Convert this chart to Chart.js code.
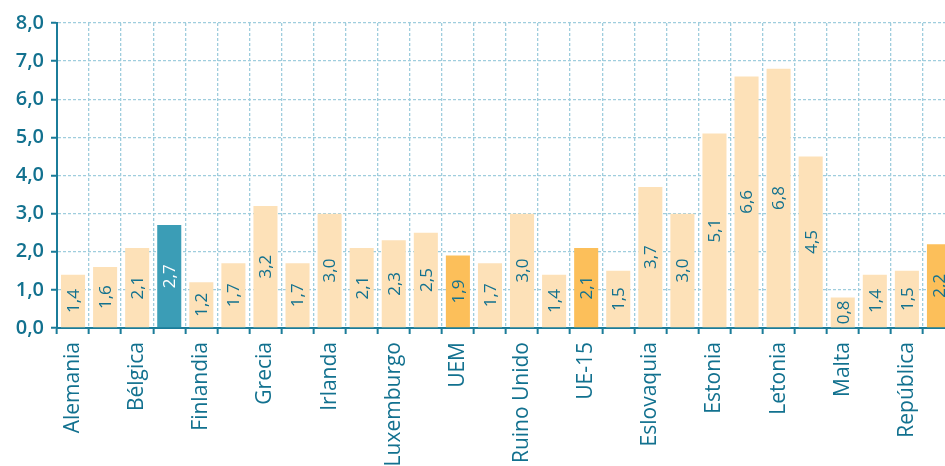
<!DOCTYPE html>
<html>
<head>
<meta charset="utf-8">
<script src="https://cdn.jsdelivr.net/npm/chart.js@4/dist/chart.umd.min.js"></script>
<style>
  body { margin: 0; background: #fff; }
  #wrap { width: 945px; height: 466px; overflow: hidden; }
  #inner { width: 955px; height: 466px; position: relative; }
</style>
</head>
<body>
<div id="wrap"><div id="inner"><canvas id="barChart"></canvas></div></div>
<script>
'use strict';

// every other label is hidden on the axis, like the original
const countries = ['Alemania','Austria','Bélgica','España','Finlandia','Francia','Grecia','Holanda',
                   'Irlanda','Italia','Luxemburgo','Portugal','UEM','Dinamarca','Ruino Unido','Suecia',
                   'UE-15','Chipre','Eslovaquia','Eslovenia','Estonia','Hungría','Letonia','Lituania',
                   'Malta','Polonia','República','UE-25'];
const values = [1.4,1.6,2.1,2.7,1.2,1.7,3.2,1.7,
                3.0,2.1,2.3,2.5,1.9,1.7,3.0,1.4,
                2.1,1.5,3.7,3.0,5.1,6.6,6.8,4.5,
                0.8,1.4,1.5,2.2];
const yTicks = [0,1,2,3,4,5,6,7,8];

const TEAL_TXT = '#12718f';
const AXIS = '#1b7c99';
const GRID = '#9fcddd';
const barColors = values.map(function(v, i){
  if (i === 3) return '#3b9db6';
  if (i === 12 || i === 16 || i === 27) return '#fcbf5a';
  return '#fde1b8';
});

function fmt(v){ return v.toFixed(1).replace('.', ','); }

// values written inside the bars, turned upright
const barLabels = {
  id: 'barLabels',
  afterDatasetsDraw: function(chart){
    const ctx = chart.ctx;
    const meta = chart.getDatasetMeta(0);
    ctx.save();
    ctx.font = '17px "Open Sans"';
    ctx.textAlign = 'center';
    ctx.textBaseline = 'middle';
    meta.data.forEach(function(bar, i){
      const midY = (bar.y + bar.base) / 2;
      ctx.save();
      ctx.translate(bar.x, midY);
      ctx.rotate(-Math.PI / 2);
      ctx.fillStyle = (i === 3) ? '#ffffff' : TEAL_TXT;
      ctx.fillText(fmt(values[i]), 0, 1);
      ctx.restore();
    });
    ctx.restore();
  }
};

let newChart = document.getElementById('barChart').getContext('2d');
new Chart(newChart, {
  type: 'bar',
  data: {
    labels: countries,
    datasets: [{
      data: values,
      backgroundColor: barColors,
      barPercentage: 0.75,
      categoryPercentage: 1.0
    }]
  },
  options: {
    responsive: true,
    maintainAspectRatio: false,
    animation: false,
    layout: { padding: { top: 23, right: 0, left: 0, bottom: 0 } },
    plugins: { legend: { display: false }, tooltip: { enabled: false } },
    scales: {
      x: {
        offset: true,
        grid: {
          offset: true,
          color: GRID,
          lineWidth: 1.3,
          tickLength: 6,
          tickColor: AXIS,
          tickWidth: 2,
          tickBorderDash: [1, 0]
        },
        border: { display: true, color: AXIS, width: 2, dash: [3, 2] },
        ticks: {
          autoSkip: false,
          minRotation: 90,
          maxRotation: 90,
          padding: 8,
          color: TEAL_TXT,
          font: { family: '"Open Sans"', size: 21 },
          callback: function(val, i){ return i % 2 === 0 ? countries[i] : ''; }
        },
        afterFit: function(s){ s.height = 138; s.paddingLeft = 0; s.paddingRight = 0; }
      },
      y: {
        min: 0,
        max: 8,
        afterBuildTicks: function(s){ s.ticks = yTicks.map(function(v){ return { value: v }; }); },
        grid: {
          color: GRID,
          lineWidth: 1.3,
          tickLength: 6,
          tickColor: AXIS,
          tickWidth: 2,
          tickBorderDash: [1, 0]
        },
        border: { display: true, color: AXIS, width: 2, dash: [3, 2] },
        ticks: {
          padding: 7,
          color: TEAL_TXT,
          font: { family: '"Open Sans"', size: 20, weight: '600' },
          callback: function(v){ return fmt(v); }
        },
        afterFit: function(s){ s.width = 57; }
      }
    }
  },
  plugins: [barLabels]
});
</script>
</body>
</html>
